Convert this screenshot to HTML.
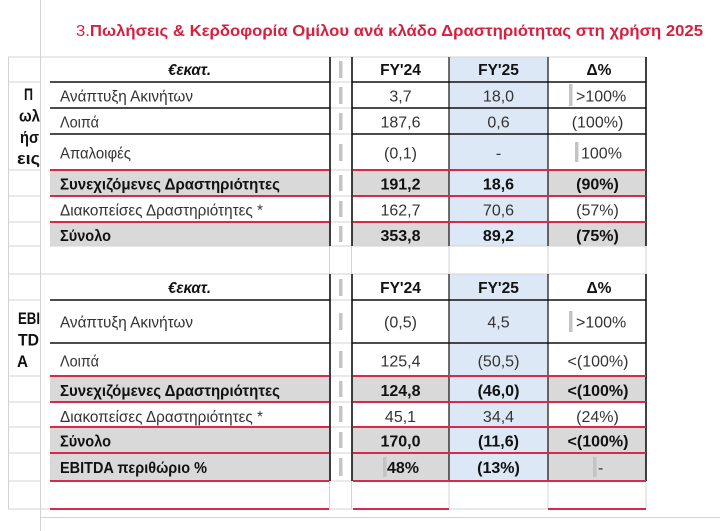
<!DOCTYPE html>
<html><head><meta charset="utf-8">
<style>
html,body{margin:0;padding:0;background:#fff;}
svg{display:block;}
text{font-family:"Liberation Sans","DejaVu Sans",sans-serif;}
</style></head>
<body>
<svg width="720" height="531" viewBox="0 0 720 531" xmlns="http://www.w3.org/2000/svg">
<rect x="0" y="0" width="720" height="531" fill="#fff"/>

<!-- fills -->
<g>
<rect x="449" y="57" width="99" height="189" fill="#dce8f5"/>
<rect x="449" y="274" width="99" height="207" fill="#dce8f5"/>
<g fill="#d9d9d9">
<rect x="50" y="170" width="280" height="26"/><rect x="352" y="170" width="97" height="26"/><rect x="548" y="170" width="98" height="26"/>
<rect x="50" y="222" width="280" height="24"/><rect x="352" y="222" width="97" height="24"/><rect x="548" y="222" width="98" height="24"/>
<rect x="50" y="376" width="280" height="26"/><rect x="352" y="376" width="97" height="26"/><rect x="548" y="376" width="98" height="26"/>
<rect x="50" y="427" width="280" height="54"/><rect x="352" y="427" width="97" height="54"/><rect x="548" y="427" width="98" height="54"/>
</g>
</g>

<!-- light grid -->
<g stroke="#d3d3d3" stroke-width="1" fill="none">
<line x1="40.5" y1="0" x2="40.5" y2="531"/>
<line x1="8.5" y1="57" x2="8.5" y2="509"/>
<line x1="8" y1="57" x2="646" y2="57"/>
<line x1="40" y1="517.5" x2="720" y2="517.5"/>
<line x1="8" y1="82" x2="40" y2="82"/>
<line x1="8" y1="170" x2="40" y2="170"/>
<line x1="8" y1="196" x2="40" y2="196"/>
<line x1="8" y1="222" x2="40" y2="222"/>
<line x1="8" y1="246" x2="40" y2="246"/>
<line x1="8" y1="274" x2="646" y2="274"/>
<line x1="8" y1="300" x2="40" y2="300"/>
<line x1="8" y1="376" x2="40" y2="376"/>
<line x1="8" y1="402" x2="40" y2="402"/>
<line x1="8" y1="427" x2="40" y2="427"/>
<line x1="8" y1="453" x2="40" y2="453"/>
<line x1="8" y1="481" x2="40" y2="481"/>
<line x1="8" y1="509" x2="646" y2="509"/>
<line x1="50" y1="246" x2="646" y2="246"/>
<line x1="330" y1="82" x2="352" y2="82"/><line x1="330" y1="108" x2="352" y2="108"/>
<line x1="330" y1="134" x2="352" y2="134"/><line x1="330" y1="170" x2="352" y2="170"/>
<line x1="330" y1="196" x2="352" y2="196"/><line x1="330" y1="222" x2="352" y2="222"/>
<line x1="330" y1="300" x2="352" y2="300"/><line x1="330" y1="343" x2="352" y2="343"/>
<line x1="330" y1="376" x2="352" y2="376"/><line x1="330" y1="402" x2="352" y2="402"/>
<line x1="330" y1="427" x2="352" y2="427"/><line x1="330" y1="453" x2="352" y2="453"/>
<line x1="330" y1="481" x2="352" y2="481"/>
<line x1="329.5" y1="246" x2="329.5" y2="274"/><line x1="351.5" y1="246" x2="351.5" y2="274"/>
<line x1="449" y1="246" x2="449" y2="274"/><line x1="548" y1="246" x2="548" y2="274"/><line x1="646" y1="246" x2="646" y2="274"/>
<line x1="329.5" y1="481" x2="329.5" y2="509"/><line x1="351.5" y1="481" x2="351.5" y2="509"/>
<line x1="449" y1="481" x2="449" y2="509"/><line x1="548" y1="481" x2="548" y2="509"/><line x1="646" y1="481" x2="646" y2="509"/>
</g>

<!-- black lines -->
<g stroke="#111" fill="none">
<g stroke-width="1.6">
<line x1="330" y1="57" x2="330" y2="246"/><line x1="352" y1="57" x2="352" y2="246"/>
<line x1="330" y1="274" x2="330" y2="481"/><line x1="352" y1="274" x2="352" y2="481"/>
<line x1="646" y1="57" x2="646" y2="246"/><line x1="646" y1="274" x2="646" y2="481"/>
</g>
<g stroke-width="1.2">
<line x1="449" y1="57" x2="449" y2="246"/><line x1="548" y1="57" x2="548" y2="246"/>
<line x1="449" y1="274" x2="449" y2="481"/><line x1="548" y1="274" x2="548" y2="481"/>
</g>
<g stroke-width="1.5">
<line x1="50" y1="82" x2="330" y2="82"/><line x1="352" y1="82" x2="646" y2="82"/>
<line x1="50" y1="108" x2="330" y2="108"/><line x1="352" y1="108" x2="646" y2="108"/>
<line x1="50" y1="134" x2="330" y2="134"/><line x1="352" y1="134" x2="646" y2="134"/>
<line x1="50" y1="300" x2="330" y2="300"/><line x1="352" y1="300" x2="646" y2="300"/>
<line x1="50" y1="343" x2="330" y2="343"/><line x1="352" y1="343" x2="646" y2="343"/>
</g>
</g>

<!-- red lines -->
<g stroke="#d9284a" stroke-width="2" fill="none">
<line x1="50" y1="170" x2="329" y2="170"/><line x1="353" y1="170" x2="646" y2="170"/>
<line x1="50" y1="196" x2="329" y2="196"/><line x1="353" y1="196" x2="646" y2="196"/>
<line x1="50" y1="222" x2="329" y2="222"/><line x1="353" y1="222" x2="646" y2="222"/>
<line x1="50" y1="376" x2="329" y2="376"/><line x1="353" y1="376" x2="646" y2="376"/>
<line x1="50" y1="402" x2="329" y2="402"/><line x1="353" y1="402" x2="646" y2="402"/>
<line x1="50" y1="427" x2="329" y2="427"/><line x1="353" y1="427" x2="646" y2="427"/>
<line x1="50" y1="453" x2="329" y2="453"/><line x1="353" y1="453" x2="646" y2="453"/>
<line x1="50" y1="481" x2="329" y2="481"/><line x1="353" y1="481" x2="646" y2="481"/>
<line x1="50" y1="509" x2="329" y2="509"/><line x1="353" y1="509" x2="449" y2="509"/><line x1="548" y1="509" x2="646" y2="509"/>
</g>

<!-- gray bars -->
<g fill="#c4c4c4">
<rect x="339" y="61" width="3.5" height="17"/>
<rect x="339" y="87" width="3.5" height="17"/>
<rect x="339" y="113" width="3.5" height="17"/>
<rect x="339" y="144" width="3.5" height="17"/>
<rect x="339" y="175" width="3.5" height="16"/>
<rect x="339" y="201" width="3.5" height="16"/>
<rect x="339" y="226" width="3.5" height="16"/>
<rect x="339" y="279" width="3.5" height="17"/>
<rect x="339" y="313" width="3.5" height="17"/>
<rect x="339" y="351" width="3.5" height="17"/>
<rect x="339" y="381" width="3.5" height="16"/>
<rect x="339" y="406" width="3.5" height="16"/>
<rect x="339" y="432" width="3.5" height="16"/>
<rect x="339" y="458" width="3.5" height="18"/>
<rect x="569" y="84" width="3.5" height="22"/>
<rect x="575" y="142" width="3.5" height="20"/>
<rect x="569" y="311" width="3.5" height="21"/>
<rect x="383" y="457" width="3.5" height="20"/>
<rect x="593" y="457" width="3.5" height="20"/>
</g>

<!-- title -->
<text x="76" y="36" font-size="16" fill="#d6203f" textLength="627" lengthAdjust="spacingAndGlyphs"><tspan>3.</tspan><tspan font-weight="bold">Πωλήσεις &amp; Κερδοφορία Ομίλου ανά κλάδο Δραστηριότητας στη χρήση 2025</tspan></text>

<!-- left merged labels -->
<g font-size="17" font-weight="bold" fill="#111">
<text x="24" y="100" textLength="9" lengthAdjust="spacingAndGlyphs">Π</text>
<text x="19" y="121.5" textLength="21" lengthAdjust="spacingAndGlyphs">ωλ</text>
<text x="20" y="143" textLength="19" lengthAdjust="spacingAndGlyphs">ήσ</text>
<text x="17" y="164" textLength="23" lengthAdjust="spacingAndGlyphs">εις</text>
<text x="18" y="324" textLength="22" lengthAdjust="spacingAndGlyphs">EBI</text>
<text x="18" y="345.5" textLength="21" lengthAdjust="spacingAndGlyphs">TD</text>
<text x="17" y="367" textLength="11" lengthAdjust="spacingAndGlyphs">A</text>
</g>

<!-- row labels -->
<g font-size="15.5" fill="#333">
<text x="168" y="75" font-weight="bold" font-style="italic" fill="#111" textLength="43" lengthAdjust="spacingAndGlyphs">€εκατ.</text>
<text x="60" y="101.5" textLength="133" lengthAdjust="spacingAndGlyphs">Ανάπτυξη Ακινήτων</text>
<text x="60" y="127.5" textLength="39" lengthAdjust="spacingAndGlyphs">Λοιπά</text>
<text x="60" y="158.5" textLength="71" lengthAdjust="spacingAndGlyphs">Απαλοιφές</text>
<text x="60" y="189.5" font-weight="bold" fill="#111" textLength="220" lengthAdjust="spacingAndGlyphs">Συνεχιζόμενες Δραστηριότητες</text>
<text x="60" y="215.3" textLength="203" lengthAdjust="spacingAndGlyphs">Διακοπείσες Δραστηριότητες *</text>
<text x="60" y="241" font-weight="bold" fill="#111" textLength="51" lengthAdjust="spacingAndGlyphs">Σύνολο</text>

<text x="168" y="293" font-weight="bold" font-style="italic" fill="#111" textLength="43" lengthAdjust="spacingAndGlyphs">€εκατ.</text>
<text x="60" y="327.5" textLength="133" lengthAdjust="spacingAndGlyphs">Ανάπτυξη Ακινήτων</text>
<text x="60" y="366.5" textLength="39" lengthAdjust="spacingAndGlyphs">Λοιπά</text>
<text x="60" y="396" font-weight="bold" fill="#111" textLength="220" lengthAdjust="spacingAndGlyphs">Συνεχιζόμενες Δραστηριότητες</text>
<text x="60" y="422" textLength="203" lengthAdjust="spacingAndGlyphs">Διακοπείσες Δραστηριότητες *</text>
<text x="60" y="446.7" font-weight="bold" fill="#111" textLength="51" lengthAdjust="spacingAndGlyphs">Σύνολο</text>
<text x="60" y="473" font-weight="bold" fill="#111" textLength="147" lengthAdjust="spacingAndGlyphs">EBITDA περιθώριο %</text>
</g>

<!-- numbers -->
<g font-size="16" fill="#333" text-anchor="middle">
<g font-weight="bold" fill="#111" font-size="15.5">
<text x="400.5" y="75">FY'24</text><text x="498.5" y="75">FY'25</text><text x="599" y="75">Δ%</text>
<text x="400.5" y="293">FY'24</text><text x="498.5" y="293">FY'25</text><text x="599" y="293">Δ%</text>
</g>
<text x="400.5" y="101.5">3,7</text><text x="498.5" y="101.5">18,0</text>
<text x="400.5" y="127.5">187,6</text><text x="498.5" y="127.5">0,6</text><text x="597.5" y="127.5">(100%)</text>
<text x="400.5" y="158.5">(0,1)</text><text x="498.5" y="158.5">-</text>
<g font-weight="bold" fill="#111">
<text x="400.5" y="189.5">191,2</text><text x="498.5" y="189.5">18,6</text><text x="597.5" y="189.5">(90%)</text>
</g>
<text x="400.5" y="215.3">162,7</text><text x="498.5" y="215.3">70,6</text><text x="597.5" y="215.3">(57%)</text>
<g font-weight="bold" fill="#111">
<text x="400.5" y="241">353,8</text><text x="498.5" y="241">89,2</text><text x="597.5" y="241">(75%)</text>
</g>

<text x="400.5" y="327.5">(0,5)</text><text x="498.5" y="327.5">4,5</text>
<text x="400.5" y="366.5">125,4</text><text x="498.5" y="366.5">(50,5)</text><text x="598" y="366.5">&lt;(100%)</text>
<g font-weight="bold" fill="#111">
<text x="400.5" y="396">124,8</text><text x="498.5" y="396">(46,0)</text><text x="598" y="396">&lt;(100%)</text>
</g>
<text x="400.5" y="422">45,1</text><text x="498.5" y="422">34,4</text><text x="597.5" y="422">(24%)</text>
<g font-weight="bold" fill="#111">
<text x="400.5" y="446.7">170,0</text><text x="498.5" y="446.7">(11,6)</text><text x="598" y="446.7">&lt;(100%)</text>
<text x="498.5" y="473">(13%)</text>
</g>
</g>
<g font-size="16" fill="#333">
<text x="576" y="101.5">&gt;100%</text>
<text x="581" y="158.5">100%</text>
<text x="576" y="327.5">&gt;100%</text>
<text x="387" y="473" font-weight="bold" fill="#111">48%</text>
<text x="598" y="473">-</text>
</g>
</svg>
</body></html>
